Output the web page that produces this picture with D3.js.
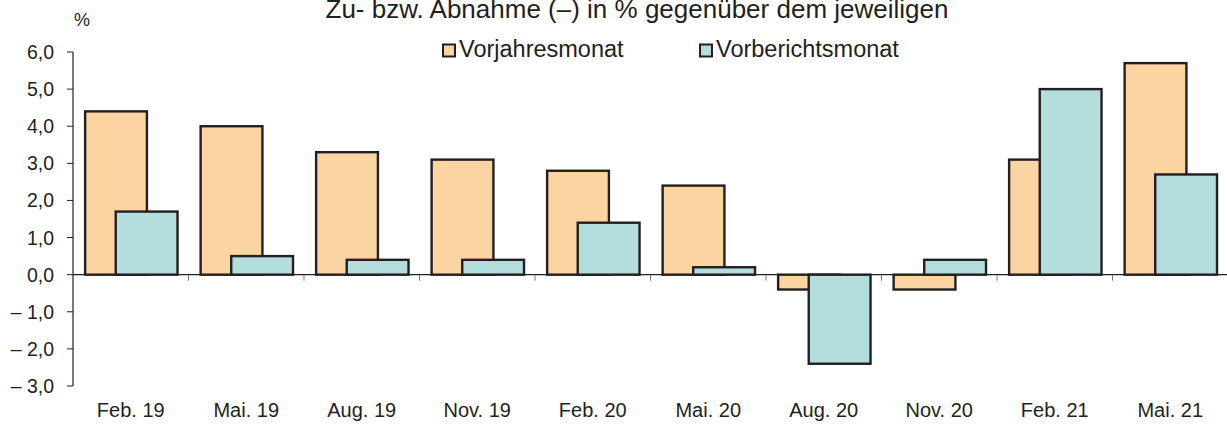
<!DOCTYPE html>
<html>
<head>
<meta charset="utf-8">
<script src='https://d3js.org/d3.v7.min.js'></script>

<style>
  body { margin: 0; background: #fff; }
  svg { display: block; }
  svg text {
    fill: #231f20;
    font-family: "Liberation Sans", Arial, sans-serif;
  }
</style>
</head>
<body>
<script>
  var categories = ["Feb. 19", "Mai. 19", "Aug. 19", "Nov. 19", "Feb. 20", "Mai. 20", "Aug. 20", "Nov. 20", "Feb. 21", "Mai. 21"];
  var vorjahr = [4.4, 4.0, 3.3, 3.1, 2.8, 2.4, -0.4, -0.4, 3.1, 5.7];
  var vorbericht = [1.7, 0.5, 0.4, 0.4, 1.4, 0.2, -2.4, 0.4, 5.0, 2.7];
  var yTicks = [6, 5, 4, 3, 2, 1, 0, -1, -2, -3];
  var seriesNames = ["Vorjahresmonat", "Vorberichtsmonat"];
  var colors = ["#fcd4a2", "#b4dede"];

  var width = 1227, height = 425;
  var mLeft = 73, mRight = 1228, mTop = 52, mBottom = 386;

  var svg = d3.select("body")
    .append("svg")
    .attr("width", width)
    .attr("height", height);

  var x = d3.scaleBand().domain(categories).range([mLeft, mRight]);
  var y = d3.scaleLinear().domain([-3, 6]).range([mBottom, mTop]);

  var bw = x.bandwidth();
  var barW = bw * 0.535;
  var off0 = bw * 0.105;   // orange bar starts
  var off1 = bw * 0.37;    // teal bar starts (overlapping)

  // title (clipped at top like the original)
  svg.append("text")
    .attr("x", 637).attr("y", 18)
    .attr("text-anchor", "middle")
    .style("font-size", "26px")
    .text("Zu- bzw. Abnahme (–) in % gegenüber dem jeweiligen");

  svg.append("text")
    .attr("x", 74).attr("y", 26)
    .style("font-size", "18px")
    .text("%");

  // legend
  var legX = [443, 700];
  seriesNames.forEach(function(n, i) {
    svg.append("rect")
      .attr("x", legX[i]).attr("y", 44.5)
      .attr("width", 12).attr("height", 12)
      .attr("fill", colors[i])
      .attr("stroke", "#231f20").attr("stroke-width", 2);
    svg.append("text")
      .attr("x", legX[i] + 16).attr("y", 57)
      .style("font-size", "23.5px")
      .text(n);
  });

  // y axis
  svg.append("line")
    .attr("x1", mLeft).attr("x2", mLeft)
    .attr("y1", y(6)).attr("y2", y(-3))
    .attr("stroke", "#231f20").attr("stroke-width", 1.2);

  svg.selectAll(".ytick")
    .data(yTicks)
    .enter()
    .append("line")
    .attr("x1", mLeft - 6).attr("x2", mLeft)
    .attr("y1", function(d) { return y(d); })
    .attr("y2", function(d) { return y(d); })
    .attr("stroke", "#231f20").attr("stroke-width", 1);

  svg.selectAll(".ylab")
    .data(yTicks)
    .enter()
    .append("text")
    .attr("x", 54)
    .attr("y", function(d) { return y(d); })
    .attr("dy", "0.36em")
    .attr("text-anchor", "end")
    .style("font-size", "19.5px")
    .text(function(d) {
      var s = Math.abs(d).toFixed(1).replace(".", ",");
      return d < 0 ? "– " + s : s;
    });

  // bars: orange first, teal on top
  var series = [vorjahr, vorbericht];
  var offs = [off0, off1];
  series.forEach(function(vals, s) {
    svg.selectAll(".bar" + s)
      .data(vals)
      .enter()
      .append("rect")
      .attr("x", function(d, i) { return x(categories[i]) + offs[s]; })
      .attr("y", function(d) { return y(Math.max(0, d)); })
      .attr("width", barW)
      .attr("height", function(d) { return Math.abs(y(d) - y(0)); })
      .attr("fill", colors[s])
      .attr("stroke", "#231f20")
      .attr("stroke-width", 2.4);
  });

  // zero line and category ticks
  svg.append("line")
    .attr("x1", mLeft).attr("x2", width)
    .attr("y1", y(0)).attr("y2", y(0))
    .attr("stroke", "#231f20").attr("stroke-width", 1.2);

  svg.selectAll(".xtick")
    .data(categories.slice(1))
    .enter()
    .append("line")
    .attr("x1", function(d) { return x(d); })
    .attr("x2", function(d) { return x(d); })
    .attr("y1", y(0)).attr("y2", y(0) + 6)
    .attr("stroke", "#777").attr("stroke-width", 1);

  svg.selectAll(".xlab")
    .data(categories)
    .enter()
    .append("text")
    .attr("x", function(d) { return x(d) + bw / 2; })
    .attr("y", 417)
    .attr("text-anchor", "middle")
    .style("font-size", "20px")
    .text(function(d) { return d; });
</script>
</body>
</html>
